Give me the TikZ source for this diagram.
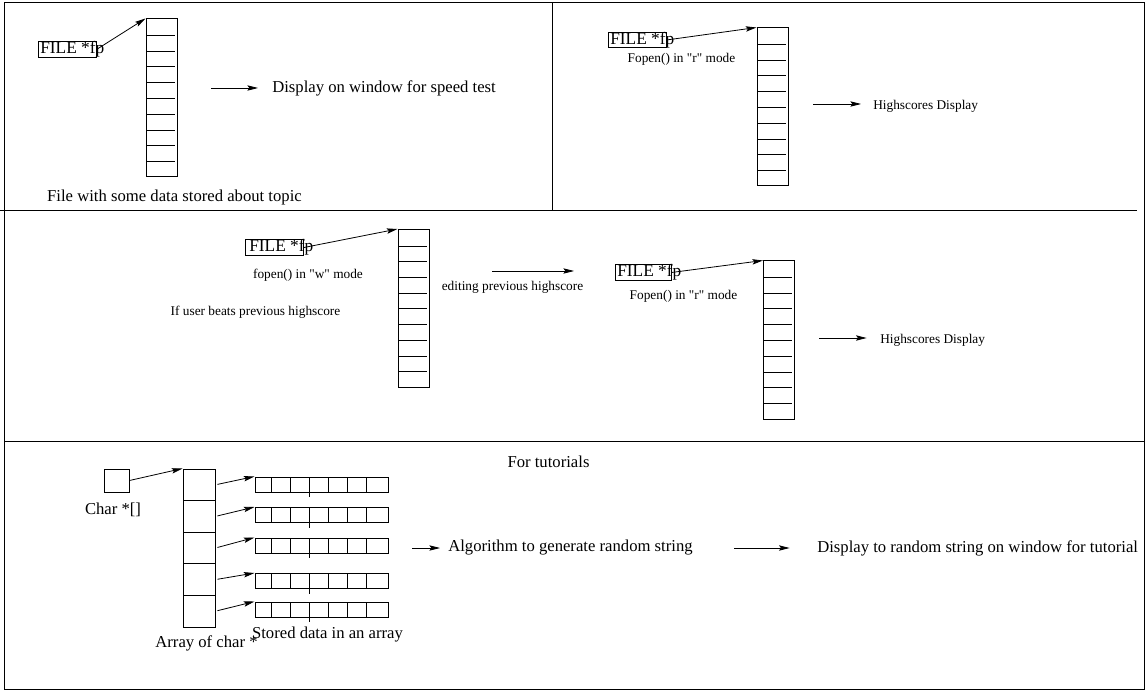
\documentclass[tikz,border=0pt]{standalone}
\usepackage{fontspec}
\setmainfont{Liberation Serif}
\newfontfamily\plainserif{Liberation Serif}
\usetikzlibrary{arrows.meta}

\tikzset{
	filebox/.style={rectangle, draw, line width=0.75pt, inner sep=0pt, minimum width=43.5pt, minimum height=11.5pt},
	arraybox/.style={rectangle, draw, line width=0.75pt, inner sep=0pt, minimum width=23.25pt, minimum height=118.5pt},
	cellbox/.style={rectangle, draw, line width=0.75pt, inner sep=0pt, minimum width=24pt, minimum height=23.7pt},
	rowbox/.style={rectangle, draw, line width=0.75pt, inner sep=0pt, minimum width=99.75pt, minimum height=11.25pt},
	bigtext/.style={font=\plainserif\fontsize{12.5}{14}\selectfont, inner sep=0pt},
	smalltext/.style={font=\plainserif\fontsize{10}{12}\selectfont, inner sep=0pt},
	filetext/.style={font=\plainserif\fontsize{13}{15}\selectfont, inner sep=0pt},
	pointer/.style={-{Stealth[length=8pt, width=4pt, inset=1.5pt]}, line width=0.6pt}
}

\begin{document}
\begin{tikzpicture}[x=0.75pt, y=-0.75pt]
		
		\useasboundingbox (0,0) rectangle (1145,691);
		
		%Frame
		\draw[-, line width=0.75pt] (4,3) rectangle (1144,689);
		\draw[-, line width=0.75pt] (552,3) -- (552,211);
		\draw[-, line width=0.75pt] (0,211) -- (1137,211);
		\draw[-, line width=0.75pt] (4,441) -- (1144,441);
		
		%First panel
		\node (firstFile) at (67,49.5) [filebox]{};
		\node (firstFileText) at (40,49.5) [filetext, anchor=west]{FILE *fp};
		\node (firstArray) at (161.5,98) [arraybox]{};
		\draw[-, line width=0.6pt] (146,35) -- (175,35) (146,51) -- (175,51) (146,66) -- (175,66)
		(146,82) -- (175,82) (146,98) -- (175,98) (146,114) -- (175,114) (146,130) -- (175,130)
		(146,145) -- (175,145) (146,161) -- (175,161);
		\draw[pointer] (firstFile.east) -- (firstArray.north west);
		\coordinate (firstArrowStart) at (211,88);
		\node (firstDisplay) at (272,88) [bigtext, anchor=west]{Display on window for speed test};
		\draw[pointer] (firstArrowStart) -- ([xshift=-10.5pt]firstDisplay.west);
		\node (firstCaption) at (174.5,197) [bigtext]{File with some data stored about topic};
		
		%Second panel
		\node (secondFile) at (637,40) [filebox]{};
		\node (secondFileText) at (610,40) [filetext, anchor=west]{FILE *fp};
		\node (secondMode) at (681.5,59) [smalltext]{Fopen() in "r" mode};
		\node (secondArray) at (772.5,107) [arraybox]{};
		\draw[-, line width=0.6pt] (757,44) -- (786,44) (757,60) -- (786,60) (757,75) -- (786,75)
		(757,91) -- (786,91) (757,107) -- (786,107) (757,123) -- (786,123) (757,139) -- (786,139)
		(757,154) -- (786,154) (757,170) -- (786,170);
		\draw[pointer] (secondFile.east) -- (secondArray.north west);
		\coordinate (secondArrowStart) at (813,104);
		\node (secondDisplay) at (873,106) [smalltext, anchor=west]{Highscores Display};
		\draw[pointer] (secondArrowStart) -- ([xshift=-9pt, yshift=1.5pt]secondDisplay.west);
		
		%Third panel
		\node (thirdFile) at (274.5,247.5) [filebox]{};
		\node (thirdFileText) at (249,247.5) [filetext, anchor=west]{FILE *fp};
		\node (thirdMode) at (308,275) [smalltext]{fopen() in "w" mode};
		\node (thirdCondition) at (255.5,312) [smalltext]{If user beats previous highscore};
		\node (thirdArray) at (413.5,308.5) [arraybox]{};
		\draw[-, line width=0.6pt] (398,246) -- (427,246) (398,261) -- (427,261) (398,277) -- (427,277)
		(398,293) -- (427,293) (398,308) -- (427,308) (398,324) -- (427,324) (398,340) -- (427,340)
		(398,356) -- (427,356) (398,371) -- (427,371);
		\draw[pointer] (thirdFile.east) -- (thirdArray.north west);
		\coordinate (thirdArrowStart) at (492,271);
		\coordinate (thirdArrowEnd) at (574,271);
		\draw[pointer] (thirdArrowStart) -- (thirdArrowEnd);
		\node (thirdEditing) at (512.5,287) [smalltext]{editing previous highscore};
		
		\node (fourthFile) at (643,272.5) [filebox, minimum width=42pt]{};
		\node (fourthFileText) at (617,272.5) [filetext, anchor=west]{FILE *fp};
		\node (fourthMode) at (683.5,296) [smalltext]{Fopen() in "r" mode};
		\node (fourthArray) at (779,340) [arraybox]{};
		\draw[-, line width=0.6pt] (764,277) -- (792,277) (764,293) -- (792,293) (764,308) -- (792,308)
		(764,324) -- (792,324) (764,340) -- (792,340) (764,356) -- (792,356) (764,372) -- (792,372)
		(764,387) -- (792,387) (764,403) -- (792,403);
		\draw[pointer] (fourthFile.east) -- (fourthArray.north west);
		\coordinate (fourthArrowStart) at (819,338);
		\node (fourthDisplay) at (880,340) [smalltext, anchor=west]{Highscores Display};
		\draw[pointer] (fourthArrowStart) -- ([xshift=-10pt, yshift=1.5pt]fourthDisplay.west);
		
		%Tutorial panel
		\node (tutorialTitle) at (548.5,462) [bigtext]{For tutorials};
		\node (charBox) at (116.5,480.5) [rectangle, draw, line width=0.75pt, minimum width=18.75pt, minimum height=17.25pt, inner sep=0pt]{};
		\node (charLabel) at (113,510) [bigtext]{Char *[]};
		
		\node (cell1) at (199,484.8) [cellbox]{};
		\node (cell2) at (199,516.4) [cellbox]{};
		\node (cell3) at (199,548) [cellbox]{};
		\node (cell4) at (199,579.6) [cellbox]{};
		\node (cell5) at (199,611.2) [cellbox]{};
		\draw[pointer] (charBox.east) -- (cell1.north west);
		\node (arrayLabel) at (206.5,643) [bigtext]{Array of char *};
		
		%Stored strings
		\node (row1) at (321.5,484.5) [rowbox]{};
		\node (row2) at (321.5,515) [rowbox]{};
		\node (row3) at (321.5,545.5) [rowbox]{};
		\node (row4) at (321.5,581) [rowbox]{};
		\node (row5) at (321.5,609.5) [rowbox]{};
		\draw[-, line width=0.6pt] (271,477) -- (271,492) (290,477) -- (290,492) (309,477) -- (309,497)
		(328,477) -- (328,492) (347,477) -- (347,492) (366,477) -- (366,492);
		\draw[-, line width=0.6pt] (271,507.5) -- (271,522.5) (290,507.5) -- (290,522.5) (309,507.5) -- (309,527.5)
		(328,507.5) -- (328,522.5) (347,507.5) -- (347,522.5) (366,507.5) -- (366,522.5);
		\draw[-, line width=0.6pt] (271,538) -- (271,553) (290,538) -- (290,553) (309,538) -- (309,558)
		(328,538) -- (328,553) (347,538) -- (347,553) (366,538) -- (366,553);
		\draw[-, line width=0.6pt] (271,573.5) -- (271,588.5) (290,573.5) -- (290,588.5) (309,573.5) -- (309,593.5)
		(328,573.5) -- (328,588.5) (347,573.5) -- (347,588.5) (366,573.5) -- (366,588.5);
		\draw[-, line width=0.6pt] (271,602) -- (271,617) (290,602) -- (290,617) (309,602) -- (309,622)
		(328,602) -- (328,617) (347,602) -- (347,617) (366,602) -- (366,617);
		
		\draw[pointer, shorten <=1.5pt] (cell1.east) -- (row1.north west);
		\draw[pointer, shorten <=1.5pt] (cell2.east) -- (row2.north west);
		\draw[pointer, shorten <=1.5pt] (cell3.east) -- (row3.north west);
		\draw[pointer, shorten <=1.5pt] (cell4.east) -- (row4.north west);
		\draw[pointer, shorten <=1.5pt] (cell5.east) -- (row5.north west);
		\node (rowLabel) at (327.5,635) [bigtext]{Stored data in an array};
		
		%Random string
		\coordinate (randomArrowStart) at (412,548);
		\node (randomAlgorithm) at (448,548) [bigtext, anchor=west]{Algorithm to generate random string};
		\draw[pointer] (randomArrowStart) -- ([xshift=-6pt]randomAlgorithm.west);
		\coordinate (tutorialArrowStart) at (734,548);
		\node (tutorialDisplay) at (817,548) [bigtext, anchor=west]{Display to random string on window for tutorial};
		\draw[pointer] (tutorialArrowStart) -- ([xshift=-20.5pt]tutorialDisplay.west);
		
\end{tikzpicture}
\end{document}
